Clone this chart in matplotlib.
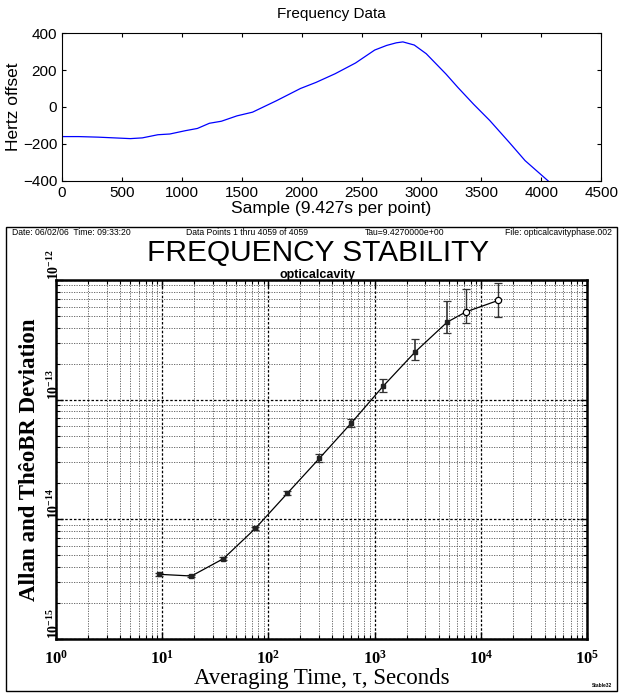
import matplotlib
matplotlib.use('Agg')
import matplotlib.pyplot as plt
import numpy as np
from matplotlib.ticker import FixedLocator, LogLocator, LogFormatterMathtext, NullFormatter

# Frequency data (sample index, Hz offset)
muestras = [0, 140, 300, 470, 570, 670, 800, 900, 1030, 1130, 1230, 1330, 1460,
            1590, 1790, 1990, 2120, 2280, 2450, 2610, 2710, 2790, 2845, 2940,
            3040, 3205, 3305, 3435, 3570, 3735, 3865, 4058]
hertz = [-160, -160, -163, -168, -171, -167, -150, -146, -128, -116, -88, -77, -48,
         -28, 34, 100, 133, 180, 238, 308, 333, 347, 352, 335,
         288, 178, 105, 15, -73, -193, -290, -400]

# Stability data
tau = [9.427, 18.854, 37.708, 75.416, 150.83, 301.66, 603.33, 1206.66, 2413.31, 4826.62]
adev = [3.47e-15, 3.36e-15, 4.69e-15, 8.4e-15, 1.65e-14, 3.23e-14, 6.38e-14,
        1.30e-13, 2.51e-13, 4.45e-13]
adev_lo = [3.38e-15, 3.27e-15, 4.55e-15, 8.1e-15, 1.59e-14, 3.03e-14, 5.9e-14,
           1.15e-13, 2.14e-13, 3.58e-13]
adev_hi = [3.56e-15, 3.45e-15, 4.83e-15, 8.7e-15, 1.71e-14, 3.49e-14, 6.88e-14,
           1.50e-13, 3.19e-13, 6.66e-13]
tau_theo = [7260, 14620]
theo = [5.42e-13, 6.76e-13]
theo_lo = [4.34e-13, 4.87e-13]
theo_hi = [8.35e-13, 9.4e-13]

x_decadas = [1e0, 1e1, 1e2, 1e3, 1e4, 1e5]
y_decadas = [1e-15, 1e-14, 1e-13, 1e-12]

plt.rcParams['axes.unicode_minus'] = False

fig = plt.figure(figsize=(6.19, 6.95), dpi=100)

# ---- grafica de arriba ----
ax1 = fig.add_axes([0.1002, 0.7396, 0.871, 0.2129])
ax1.plot(muestras, hertz, color='#0000ff', linewidth=0.9)
ax1.set_xlim(0, 4500)
ax1.set_ylim(-400, 400)
ax1.set_xticks(range(0, 4501, 500))
ax1.set_yticks(range(-400, 401, 200))
ax1.set_yticklabels(['\u2212400', '\u2212200', '0', '200', '400'])
ax1.tick_params(direction='in', top=True, right=True, labelsize=11, length=3)
for lab in ax1.get_xticklabels() + ax1.get_yticklabels():
    lab.set_family('Liberation Sans')
ax1.set_title('Frequency Data', fontsize=11, family='Liberation Sans', pad=11)
ax1.set_xlabel('Sample (9.427s per point)', fontsize=12.5, family='Liberation Sans', labelpad=1)
ax1.set_ylabel('Hertz offset', fontsize=12.5, family='Liberation Sans')
ax1.yaxis.set_label_coords(-0.077, 0.5)

# ---- marco de Stable32 ----
marco = plt.Rectangle((6 / 619, 1 - 691 / 695), 611 / 619, 464 / 695,
                      transform=fig.transFigure, fill=False, edgecolor='black', linewidth=1.0)
fig.patches.append(marco)

y_enc = 1 - 232.5 / 695
fig.text(12 / 619, y_enc, 'Date: 06/02/06  Time: 09:33:20', fontsize=6.2, va='center', family='Liberation Sans')
fig.text(247 / 619, y_enc, 'Data Points 1 thru 4059 of 4059', fontsize=6.2, va='center', ha='center', family='Liberation Sans')
fig.text(405 / 619, y_enc, 'Tau=9.4270000e+00', fontsize=6.2, va='center', ha='center', family='Liberation Sans')
fig.text(612 / 619, y_enc, 'File: opticalcavityphase.002', fontsize=6.2, va='center', ha='right', family='Liberation Sans')
fig.text(318 / 619, 1 - 261 / 695, 'FREQUENCY STABILITY', fontsize=21.5, ha='center', va='baseline',
         family='Liberation Sans')
fig.text(318 / 619, 1 - 278 / 695, 'opticalcavity', fontsize=9, ha='center', va='baseline',
         weight='bold', family='Liberation Sans')
fig.text(612 / 619, 1 - 688 / 695, 'Stable32', fontsize=3.5, ha='right', va='bottom',
         weight='bold', family='Liberation Sans')

# ---- grafica de estabilidad ----
ax2 = fig.add_axes([0.0905, 0.0806, 0.8578, 0.5165])
ax2.set_xscale('log')
ax2.set_yscale('log')
ax2.set_xlim(x_decadas[0], x_decadas[-1])
ax2.set_ylim(y_decadas[0], y_decadas[-1])

ax2.errorbar(tau, adev, yerr=[np.array(adev) - np.array(adev_lo), np.array(adev_hi) - np.array(adev)],
             fmt='none', ecolor='#333333', elinewidth=1.2, capsize=3, capthick=0.9, zorder=3)
ax2.errorbar(tau_theo, theo, yerr=[np.array(theo) - np.array(theo_lo), np.array(theo_hi) - np.array(theo)],
             fmt='none', ecolor='#333333', elinewidth=1.0, capsize=3, capthick=0.9, zorder=3)
ax2.plot(tau + tau_theo, adev + theo, color='black', linewidth=0.9, zorder=4)
ax2.plot(tau, adev, 's', color='#222222', markersize=3.5, zorder=5)
ax2.plot(tau_theo, theo, 'o', markerfacecolor='white', markeredgecolor='black', markersize=4.5,
         markeredgewidth=0.9, zorder=5)

ax2.xaxis.set_major_locator(FixedLocator(x_decadas))
ax2.xaxis.set_minor_locator(LogLocator(base=10, subs=np.arange(2, 10), numticks=20))
ax2.yaxis.set_major_locator(FixedLocator(y_decadas))
ax2.yaxis.set_minor_locator(LogLocator(base=10, subs=np.arange(2, 10), numticks=20))
ax2.xaxis.set_major_formatter(LogFormatterMathtext())
ax2.yaxis.set_major_formatter(LogFormatterMathtext())
ax2.xaxis.set_minor_formatter(NullFormatter())
ax2.yaxis.set_minor_formatter(NullFormatter())

ax2.grid(which='major', color='black', linestyle=(0, (2, 1.5)), linewidth=0.9)
ax2.grid(which='minor', color='#555555', linestyle=(0, (1.5, 1.5)), linewidth=0.6)
ax2.tick_params(which='both', direction='in', top=True, right=True)
ax2.tick_params(which='major', length=5, width=1.0)
ax2.tick_params(which='minor', length=3, width=0.8)
ax2.tick_params(axis='x', labelsize=12, pad=8)
ax2.tick_params(axis='y', labelsize=10, pad=-4)
for lab in ax2.get_xticklabels():
    lab.set_family('Liberation Serif')
    lab.set_weight('bold')
for lab in ax2.get_yticklabels():
    lab.set_family('Liberation Serif')
    lab.set_weight('bold')
    lab.set_rotation(90)
    lab.set_va('bottom')
for s in ax2.spines.values():
    s.set_linewidth(1.8)

ax2.set_xlabel('Averaging Time, \u03c4, Seconds', fontsize=16.5,
               family='Liberation Serif', labelpad=0)
ax2.set_ylabel('Allan and ThêoBR Deviation', fontsize=16.5, weight='bold',
               family='Liberation Serif')
ax2.yaxis.set_label_coords(-0.031, 0.5)

fig.savefig('out.png', dpi=100)
